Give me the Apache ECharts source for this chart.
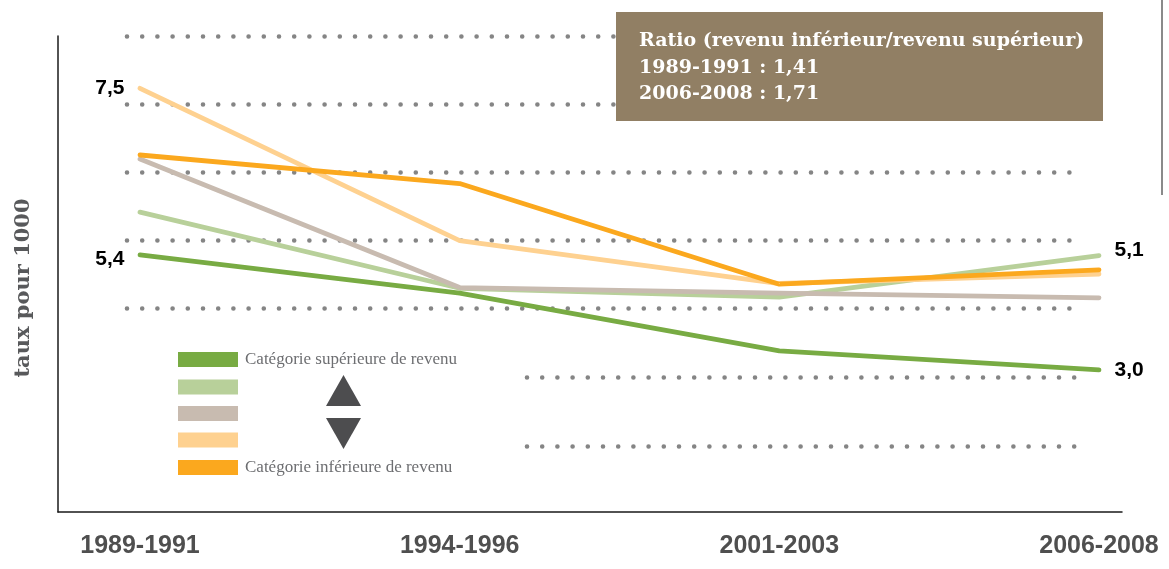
<!DOCTYPE html>
<html>
<head>
<meta charset="utf-8">
<script src="https://cdn.jsdelivr.net/npm/echarts@6/dist/echarts.min.js"></script>
<style>html,body{margin:0;padding:0;background:#fff}#c{width:1169px;height:569px}</style>
</head>
<body>
<div id="c"></div>
<script>
// Periods (x categories)
var categories = ['1989-1991', '1994-1996', '2001-2003', '2006-2008'];
// Values, in units of the dotted grid spacing (0 = bottom axis)
var superieure  = [3.78, 3.22, 2.37, 2.09];
var moyenneSup  = [4.41, 3.29, 3.16, 3.77];
var moyenne     = [5.19, 3.30, 3.22, 3.15];
var moyenneInf  = [6.23, 3.99, 3.36, 3.50];
var inferieure  = [5.25, 4.83, 3.35, 3.56];
// Printed value labels
var labelTexts = ['7,5', '5,4', '5,1', '3,0'];
var seriesNames = ['Catégorie supérieure de revenu', 'Catégorie moyenne-supérieure', 'Catégorie moyenne', 'Catégorie moyenne-inférieure', 'Catégorie inférieure de revenu'];
var ratioLines = ['Ratio (revenu inférieur/revenu supérieur)', '1989-1991 : 1,41', '2006-2008 : 1,71'];
var yName = 'taux pour 1000';

var colors = ['#78ab43', '#b8d09a', '#c8bbb0', '#fed190', '#fba81e'];

function withLabels(arr, labels) {
  return arr.map(function (v, i) {
    if (labels[i]) {
      return { value: v, label: Object.assign({ show: true, formatter: labels[i].text }, labels[i].opt) };
    }
    return v;
  });
}
var lblStyle = { fontFamily: 'Liberation Sans', fontWeight: 'bold', fontSize: 21, color: '#000' };
function L(pos, off) { return Object.assign({ position: pos, distance: 15, offset: off || [0, 0] }, lblStyle); }

function lineSeries(name, data, color, z) {
  return {
    type: 'line', name: name, data: data, xAxisIndex: 3, yAxisIndex: 3,
    symbol: 'circle', symbolSize: 1, showSymbol: true, silent: true, z: z,
    itemStyle: { color: color },
    lineStyle: { color: color, width: 4.8, cap: 'round', join: 'round' },
    label: { show: false },
    animation: false
  };
}

var dotted = { color: '#858585', width: 4.6, type: [0, 15.2], cap: 'round' };
function hiddenX(grid) { return { type: 'value', gridIndex: grid, show: false, min: 0, max: 1 }; }

var chart = echarts.init(document.getElementById('c'), null, { renderer: 'canvas' });
chart.setOption({
  animation: false,
  grid: [
    { left: 58, right: 47, top: 36, bottom: 57 },
    { left: 127, right: 86, top: 36, bottom: 261 },
    { left: 527, right: 82, top: 377, bottom: 123 },
    { left: 140, right: 70, top: 36, bottom: 57 }
  ],
  xAxis: [
    { type: 'value', gridIndex: 0, min: 0, max: 1, axisLine: { show: true, onZero: false, lineStyle: { color: '#1a1a1a', width: 1.5 } }, axisTick: { show: false }, axisLabel: { show: false }, splitLine: { show: false } },
    hiddenX(1),
    hiddenX(2),
    { type: 'category', gridIndex: 3, data: categories, boundaryGap: false,
      axisLine: { show: false }, axisTick: { show: false }, splitLine: { show: false },
      axisLabel: { margin: 22, fontFamily: 'Liberation Sans', fontWeight: 'bold', fontSize: 25, color: '#4f4f4f' } }
  ],
  yAxis: [
    { type: 'value', gridIndex: 0, min: 0, max: 1, axisLine: { show: true, lineStyle: { color: '#1a1a1a', width: 1.5 } }, axisTick: { show: false }, axisLabel: { show: false }, splitLine: { show: false } },
    { type: 'value', gridIndex: 1, min: 3, max: 7, interval: 1, axisLine: { show: false }, axisTick: { show: false }, axisLabel: { show: false }, splitLine: { show: true, lineStyle: dotted } },
    { type: 'value', gridIndex: 2, min: 1, max: 2, interval: 1, axisLine: { show: false }, axisTick: { show: false }, axisLabel: { show: false }, splitLine: { show: true, lineStyle: dotted } },
    { type: 'value', gridIndex: 3, min: 0, max: 7, show: false }
  ],
  legend: {
    orient: 'vertical', left: 178, top: 351, padding: 0, itemWidth: 60, itemHeight: 15, itemGap: 11.5,
    icon: 'rect', selectedMode: false,
    data: seriesNames,
    formatter: function (n) { return (n === seriesNames[0] || n === seriesNames[4]) ? n : ''; },
    textStyle: { fontFamily: 'Liberation Serif', fontSize: 17, color: '#6d6e71', lineHeight: 15, padding: [0, 0, 0, 2] }
  },
  series: [
    lineSeries(seriesNames[1], withLabels(moyenneSup, { 3: { text: labelTexts[2], opt: L('right', [0, -5]) } }), colors[1], 2),
    lineSeries(seriesNames[2], moyenne, colors[2], 2),
    lineSeries(seriesNames[3], withLabels(moyenneInf, { 0: { text: labelTexts[0], opt: L('left', [0, 0]) } }), colors[3], 2),
    lineSeries(seriesNames[0], withLabels(superieure, { 0: { text: labelTexts[1], opt: L('left', [0, 4]) }, 3: { text: labelTexts[3], opt: L('right', [0, 0]) } }), colors[0], 2),
    lineSeries(seriesNames[4], inferieure, colors[4], 2)
  ],
  graphic: [
    { type: 'rect', shape: { x: 616, y: 12, width: 487, height: 109 }, style: { fill: '#917f64' }, z: 100 },
    { type: 'text', x: 639, y: 41, style: { text: ratioLines[0], fill: '#fff', font: 'bold 19px "DejaVu Serif"', textVerticalAlign: 'middle' }, z: 101 },
    { type: 'text', x: 639, y: 68, style: { text: ratioLines[1], fill: '#fff', font: 'bold 19px "DejaVu Serif"', textVerticalAlign: 'middle' }, z: 101 },
    { type: 'text', x: 639, y: 94, style: { text: ratioLines[2], fill: '#fff', font: 'bold 19px "DejaVu Serif"', textVerticalAlign: 'middle' }, z: 101 },
    { type: 'polygon', shape: { points: [[343.5, 375], [361, 406], [326, 406]] }, style: { fill: '#4d4d4f' } },
    { type: 'polygon', shape: { points: [[326, 418], [361, 418], [343.5, 449]] }, style: { fill: '#4d4d4f' } },
    { type: 'line', shape: { x1: 1162, y1: 0, x2: 1162, y2: 195 }, style: { stroke: '#8a8a8a', lineWidth: 2 } },
    { type: 'text', x: 24, y: 288, rotation: Math.PI / 2, style: { text: yName, fill: '#58595b', font: 'bold 21px "DejaVu Serif"', textAlign: 'center', textVerticalAlign: 'middle' } }
  ]
});
</script>
</body>
</html>
